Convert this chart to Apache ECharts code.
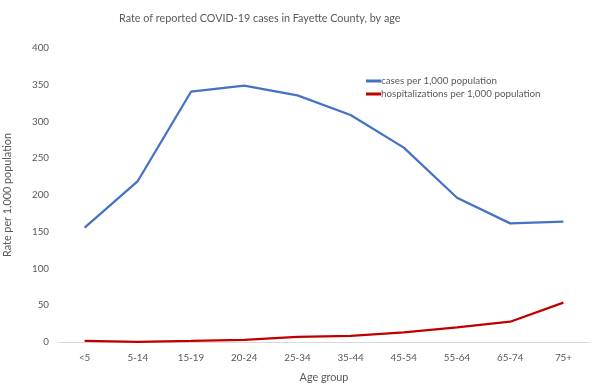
<!DOCTYPE html>
<html><head><meta charset="utf-8">
<script src="https://cdn.jsdelivr.net/npm/echarts@6/dist/echarts.min.js"></script>
<style>html,body{margin:0;padding:0;background:#fff}#c{width:592px;height:386px}</style>
</head><body><div id="c"></div>
<script>
const categories = ['<5','5-14','15-19','20-24','25-34','35-44','45-54','55-64','65-74','75+'];
const cases = [155.5, 219, 340.5, 348.7, 335.6, 308.8, 264.4, 196.3, 161.4, 163.7];
const hospitalizations = [1.5, 0.3, 1.5, 3, 7, 8.5, 13, 20, 27.6, 53.5];
const yTicks = [0, 50, 100, 150, 200, 250, 300, 350, 400];

const font = 'Lato, "Open Sans", sans-serif';
const chart = echarts.init(document.getElementById('c'), null, {renderer: 'canvas'});
chart.setOption({
  animation: false,
  title: {text: 'Rate of reported COVID-19 cases in Fayette County, by age', left: 114, top: 8,
    textStyle: {fontFamily: font, fontSize: 10.8, fontWeight: 'normal', color: '#595959'}},
  legend: {orient: 'vertical', left: 361, top: 71, itemWidth: 15, itemHeight: 3, itemGap: 3,
    icon: 'rect', textStyle: {fontFamily: font, fontSize: 9.8, color: '#595959', padding: [0,0,0,-5]}},
  grid: {left: 58, right: 2, top: 48, bottom: 44, outerBoundsMode: 'none'},
  xAxis: {type: 'category', data: categories, boundaryGap: true,
    name: 'Age group', nameLocation: 'middle', nameGap: 30,
    nameTextStyle: {fontFamily: font, fontSize: 10.8, color: '#595959'},
    axisLine: {lineStyle: {color: '#d9d9d9'}}, axisTick: {show: false},
    axisLabel: {fontFamily: font, fontSize: 9.8, color: '#595959', margin: 11}},
  yAxis: {type: 'value', min: yTicks[0], max: yTicks[yTicks.length-1], interval: 50,
    name: 'Rate per 1,000 population', nameLocation: 'middle', nameGap: 45,
    nameTextStyle: {fontFamily: font, fontSize: 10.8, color: '#595959'},
    axisLine: {show: false}, axisTick: {show: false}, splitLine: {show: false},
    axisLabel: {fontFamily: font, fontSize: 9.8, color: '#595959', margin: 9}},
  series: [
    {name: 'cases per 1,000 population', type: 'line', data: cases, symbol: 'none',
      lineStyle: {color: '#4472c4', width: 2.25}, itemStyle: {color: '#4472c4'}},
    {name: 'hospitalizations per 1,000 population', type: 'line', data: hospitalizations, symbol: 'none',
      lineStyle: {color: '#c00000', width: 2.25}, itemStyle: {color: '#c00000'}}
  ]
});
</script></body></html>
